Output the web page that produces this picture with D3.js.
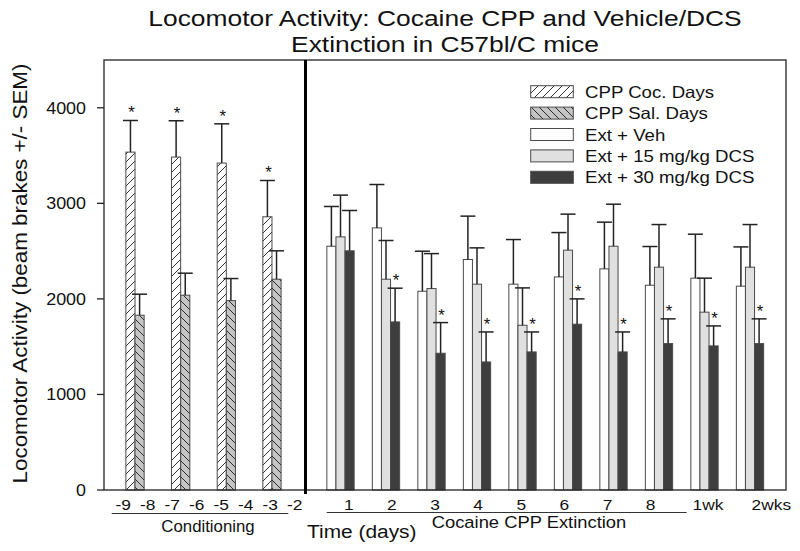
<!DOCTYPE html>
<html><head><meta charset="utf-8">
<script src="https://cdn.jsdelivr.net/npm/d3@7"></script>
<style>
body{margin:0;background:#fff}
svg{display:block}
text{font-family:"Liberation Sans",Arial,sans-serif;fill:#111}
</style>
</head><body>
<svg id="c" width="800" height="551"></svg>
<script>
// ---------------- data ----------------
const condDays = ["-9","-7","-5","-3"];
const cocMean = [3536,3484,3421,2859];
const cocSem  = [331,380,411,380];
const salMean = [1829,2039,1982,2206];
const salSem  = [220,230,231,297];
const cocSig  = [true,true,true,true];

const extLabels = ["1","2","3","4","5","6","7","8","1wk","2wks"];
const vehMean = [2551,2743,2080,2412,2154,2230,2314,2143,2217,2133];
const vehSem  = [416,454,419,454,467,464,489,405,460,411];
const d15Mean = [2649,2206,2108,2154,1724,2510,2551,2332,1861,2332];
const d15Sem  = [437,405,366,380,391,377,440,446,356,446];
const d30Mean = [2503,1759,1431,1340,1445,1735,1445,1532,1508,1532];
const d30Sem  = [422,353,321,314,209,265,209,259,209,259];
const d30Sig  = [false,true,true,true,true,true,true,true,true,true];

const condTickVals = [-9,-8,-7,-6,-5,-4,-3,-2];
const extTickVals  = [1,2,3,4,5,6,7,8,9.33,10.8];
const yTickVals = [0,1000,2000,3000,4000];

const legendNames = ["CPP Coc. Days","CPP Sal. Days","Ext + Veh","Ext + 15 mg/kg DCS","Ext + 30 mg/kg DCS"];

// ---------------- setup ----------------
const svg = d3.select("#c");
const L=104, R=786, T=60, B=490;
const y = d3.scaleLinear([0,4500],[B,T]);
const xCond = d3.scaleBand(condDays,[112.2,294.8]).paddingInner(0.6).paddingOuter(0.3);
const xCondSub = d3.scaleBand(["coc","sal"],[0,xCond.bandwidth()]);
const xExt = d3.scaleBand(extLabels,[317.75,772.75]).paddingInner(0.4).paddingOuter(0.2);
const xExtSub = d3.scaleBand(["veh","d15","d30"],[0,xExt.bandwidth()]);
const xCondTick = d3.scaleLinear([-9,-2],[123.2,294.8]);
const xExtTick = d3.scaleLinear([1,8],[348.8,650.6]);

const defs = svg.append("defs");
function hatch(id, bg, d){
  const p = defs.append("pattern").attr("id",id).attr("patternUnits","userSpaceOnUse")
    .attr("width",8).attr("height",8);
  p.append("rect").attr("width",8).attr("height",8).attr("fill",bg);
  p.append("path").attr("d",d).attr("stroke","#1a1a1a").attr("stroke-width",0.9).attr("fill","none");
}
hatch("fwd","#ffffff","M0,8L8,0M-2,2L2,-2M6,10L10,6");
hatch("bwd","#c4c4c4","M0,0L8,8M-2,6L2,10M6,-2L10,2");

const fills = {coc:"url(#fwd)", sal:"url(#bwd)", veh:"#ffffff", d15:"#e0e0e0", d30:"#3e3e3e"};

function txt(str,x,yy,size,sx,anchor,rot){
  return svg.append("text")
    .attr("transform",`translate(${x},${yy})${rot?` rotate(${rot})`:""} scale(${sx},1)`)
    .attr("text-anchor",anchor||"start")
    .style("font-size",size+"px").text(str);
}

// ---------------- bars ----------------
function drawSeries(xs, sub, key, means, sems, sig){
  const g = svg.append("g");
  means.forEach((m,i)=>{
    const cat = xs.domain()[i];
    const x0 = xs(cat)+sub(key), w = sub.bandwidth(), cx = x0+w/2;
    g.append("rect").attr("x",x0).attr("y",y(m)).attr("width",w).attr("height",y(0)-y(m))
      .attr("fill",fills[key]).attr("stroke","#4a4a4a").attr("stroke-width",1);
    const top = y(m+sems[i]);
    g.append("line").attr("x1",cx).attr("x2",cx).attr("y1",y(m)).attr("y2",top)
      .attr("stroke","#222").attr("stroke-width",1.5);
    g.append("line").attr("x1",cx-7.5).attr("x2",cx+7.5).attr("y1",top).attr("y2",top)
      .attr("stroke","#222").attr("stroke-width",1.5);
    if(sig && sig[i]) txt("*",cx+1,top-2,16,1.05,"middle");
  });
}
drawSeries(xCond,xCondSub,"coc",cocMean,cocSem,cocSig);
drawSeries(xCond,xCondSub,"sal",salMean,salSem,null);
drawSeries(xExt,xExtSub,"veh",vehMean,vehSem,null);
drawSeries(xExt,xExtSub,"d15",d15Mean,d15Sem,null);
drawSeries(xExt,xExtSub,"d30",d30Mean,d30Sem,d30Sig);

// ---------------- frame & axes ----------------
svg.append("rect").attr("x",L).attr("y",T).attr("width",R-L).attr("height",B-T)
  .attr("fill","none").attr("stroke","#222").attr("stroke-width",1.3);
svg.append("line").attr("x1",305.5).attr("x2",305.5).attr("y1",T).attr("y2",494)
  .attr("stroke","#000").attr("stroke-width",3);

yTickVals.forEach(v=>{
  svg.append("line").attr("x1",L-7).attr("x2",L).attr("y1",y(v)).attr("y2",y(v))
    .attr("stroke","#222").attr("stroke-width",1.3);
  txt(String(v),86,y(v)+6,16,1.12,"end");
});

condTickVals.forEach(v=> txt(String(v),xCondTick(v),509.5,15.5,1.12,"middle"));
extTickVals.forEach((v,i)=> txt(extLabels[i],xExtTick(v),509.5,15.5,1.12,"middle"));

svg.append("line").attr("x1",111.7).attr("x2",288.3).attr("y1",513.5).attr("y2",513.5)
  .attr("stroke","#333").attr("stroke-width",1);
svg.append("line").attr("x1",326.7).attr("x2",686.7).attr("y1",512.5).attr("y2",512.5)
  .attr("stroke","#333").attr("stroke-width",1);

txt("Conditioning",208,531.5,16,1.05,"middle");
txt("Cocaine CPP Extinction",529,528,17,1.08,"middle");
txt("Time (days)",307,537.5,19,1.1,"start");

txt("Locomotor Activity (beam brakes +/- SEM)",27,273.5,20,1.12,"middle",-90);

txt("Locomotor Activity: Cocaine CPP and Vehicle/DCS",445,26,22,1.2,"middle");
txt("Extinction in C57bl/C mice",445,52,22,1.2,"middle");

// ---------------- legend ----------------
const legKeys = ["coc","sal","veh","d15","d30"];
const ly = d3.scalePoint(legKeys,[91.7,177.3]);
legKeys.forEach((k,i)=>{
  svg.append("rect").attr("x",530.7).attr("y",ly(k)-6).attr("width",42.6).attr("height",12)
    .attr("fill",fills[k]).attr("stroke","#4a4a4a").attr("stroke-width",1);
  txt(legendNames[i],585,ly(k)+6,16.5,1.13,"start");
});
</script>
</body></html>
